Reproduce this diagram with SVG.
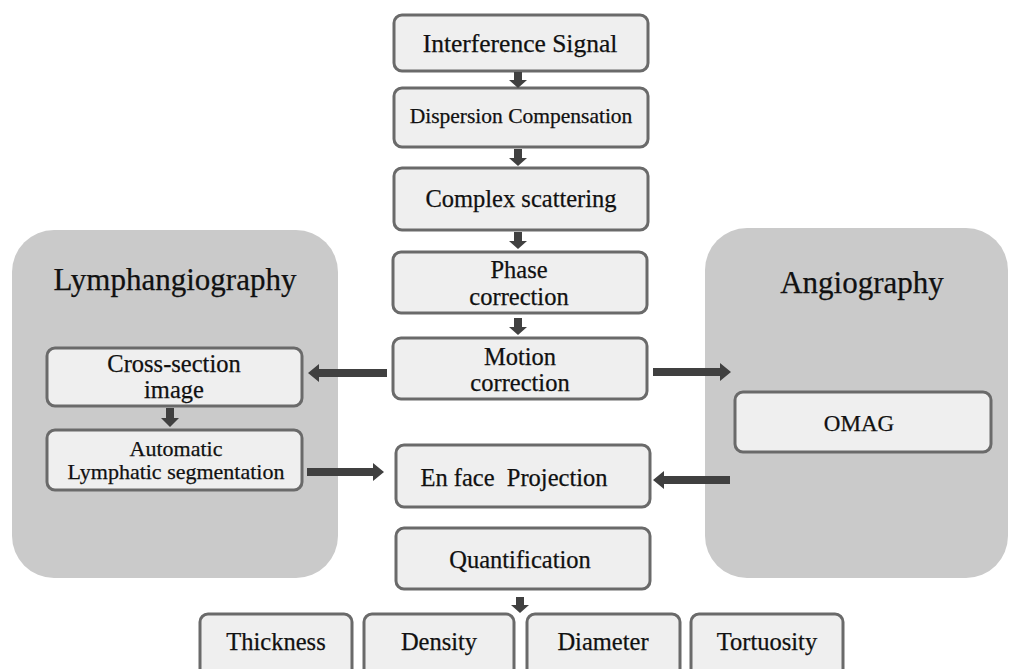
<svg xmlns="http://www.w3.org/2000/svg" width="1011" height="669" viewBox="0 0 1011 669">
<style>
.panel{fill:#cacaca}
.box{fill:#efefef;stroke:#6a6a6a;stroke-width:3}
.t{font-family:"Liberation Serif","Times New Roman",serif;font-size:24.5px;fill:#111111;text-anchor:middle;stroke:#111111;stroke-width:0.25}
.title{font-size:31px}
.arr{fill:#404040}
</style>
<rect width="1011" height="669" fill="#ffffff"/>
<g id="panel-lymph">
<rect class="panel" x="12" y="230" width="326" height="348" rx="42"/>
<text class="t title" x="175" y="290">Lymphangiography</text>
</g>
<g id="panel-angio">
<rect class="panel" x="705" y="228" width="303" height="350" rx="42"/>
<text class="t title" x="862" y="293">Angiography</text>
</g>
<g id="n-interference">
<rect class="box" x="394" y="15" width="254" height="56" rx="8"/>
<text class="t" x="520" y="52" style="font-size:25.5px">Interference Signal</text>
</g>
<g id="n-dispersion">
<rect class="box" x="394" y="88" width="254" height="59" rx="8"/>
<text class="t" x="521" y="123" style="font-size:21.5px">Dispersion Compensation</text>
</g>
<g id="n-complex">
<rect class="box" x="394" y="168" width="254" height="62" rx="8"/>
<text class="t" x="521" y="207">Complex scattering</text>
</g>
<g id="n-phase">
<rect class="box" x="393" y="252" width="254" height="61" rx="8"/>
<text class="t" x="519" y="278">Phase</text>
<text class="t" x="519" y="305">correction</text>
</g>
<g id="n-motion">
<rect class="box" x="393" y="338" width="254" height="61" rx="8"/>
<text class="t" x="520" y="365">Motion</text>
<text class="t" x="520" y="391">correction</text>
</g>
<g id="n-cross">
<rect class="box" x="47" y="348" width="255" height="58" rx="8"/>
<text class="t" x="174" y="372">Cross-section</text>
<text class="t" x="174" y="398">image</text>
</g>
<g id="n-auto">
<rect class="box" x="47" y="430" width="255" height="60" rx="8"/>
<text class="t" x="176" y="456" style="font-size:22px">Automatic</text>
<text class="t" x="176" y="479" style="font-size:22px">Lymphatic segmentation</text>
</g>
<g id="n-omag">
<rect class="box" x="735" y="392" width="256" height="60" rx="8"/>
<text class="t" x="859" y="431" style="font-size:23px">OMAG</text>
</g>
<g id="n-enface">
<rect class="box" x="396" y="445" width="254" height="62" rx="8"/>
<text class="t" x="514" y="486" xml:space="preserve">En face  Projection</text>
</g>
<g id="n-quant">
<rect class="box" x="396" y="528" width="254" height="61" rx="8"/>
<text class="t" x="520" y="568">Quantification</text>
</g>
<g id="n-thickness">
<rect class="box" x="200" y="614" width="152" height="70" rx="8"/>
<text class="t" x="276" y="650">Thickness</text>
</g>
<g id="n-density">
<rect class="box" x="364" y="614" width="150" height="70" rx="8"/>
<text class="t" x="439" y="650">Density</text>
</g>
<g id="n-diameter">
<rect class="box" x="527" y="614" width="153" height="70" rx="8"/>
<text class="t" x="603" y="650">Diameter</text>
</g>
<g id="n-tortuosity">
<rect class="box" x="691" y="614" width="152" height="70" rx="8"/>
<text class="t" x="767" y="650">Tortuosity</text>
</g>
<g id="connectors">
<polygon class="arr" points="514,72 522,72 522,80 527,80 518,88 509,80 514,80"/>
<polygon class="arr" points="514,149 522,149 522,158 527,158 518,166 509,158 514,158"/>
<polygon class="arr" points="514,232 522,232 522,241 527,241 518,249 509,241 514,241"/>
<polygon class="arr" points="514,318 522,318 522,327 527,327 518,335 509,327 514,327"/>
<polygon class="arr" points="166,408 174,408 174,418 179,418 170,427 161,418 166,418"/>
<polygon class="arr" points="516,597 524,597 524,605 529,605 520,613 511,605 516,605"/>
<polygon class="arr" points="387,369 319,369 319,364 308,373 319,382 319,377 387,377"/>
<polygon class="arr" points="307,468 373,468 373,463 384,472 373,481 373,476 307,476"/>
<polygon class="arr" points="653,368 720,368 720,363 731,372 720,381 720,376 653,376"/>
<polygon class="arr" points="730,476 664,476 664,471 653,480 664,489 664,484 730,484"/>
</g>
</svg>
